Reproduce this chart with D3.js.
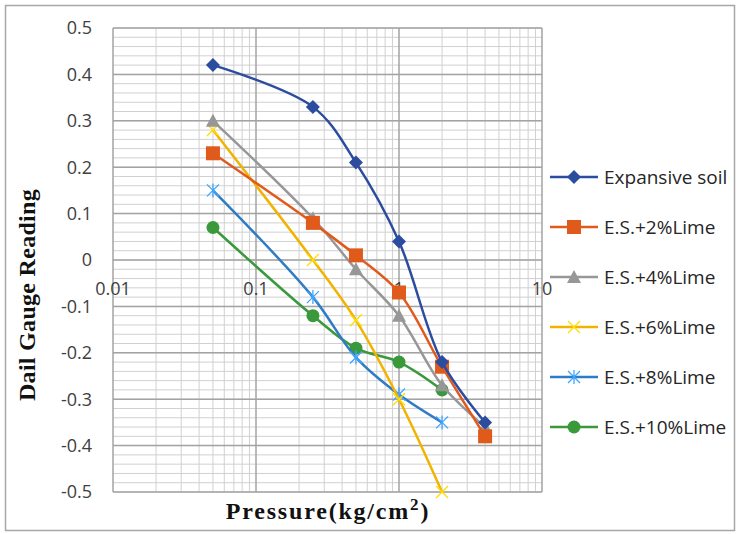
<!DOCTYPE html>
<html>
<head>
<meta charset="utf-8">
<script src="https://cdn.jsdelivr.net/npm/d3@7"></script>
<style>
  body { margin: 0; background: #fff; }
</style>
</head>
<body>
<div id="chart"></div>
<script>
// data
var pressure = [0.05, 0.25, 0.5, 1, 2, 4];
var seriesNames = ["Expansive soil", "E.S.+2%Lime", "E.S.+4%Lime", "E.S.+6%Lime", "E.S.+8%Lime", "E.S.+10%Lime"];
var expansiveSoil = [0.42, 0.33, 0.21, 0.04, -0.22, -0.35];
var lime2 = [0.23, 0.08, 0.01, -0.07, -0.23, -0.38];
var lime4 = [0.30, 0.09, -0.02, -0.12, -0.27, -0.36];
var lime6 = [0.28, 0.0, -0.13, -0.30, -0.50];
var lime8 = [0.15, -0.08, -0.21, -0.29, -0.35];
var lime10 = [0.07, -0.12, -0.19, -0.22, -0.28];
var xTicks = [0.01, 0.1, 1, 10];
var yTicks = [0.5, 0.4, 0.3, 0.2, 0.1, 0, -0.1, -0.2, -0.3, -0.4, -0.5];
var yTickLabels = ["0.5", "0.4", "0.3", "0.2", "0.1", "0", "-0.1", "-0.2", "-0.3", "-0.4", "-0.5"];
var xTickLabels = ["0.01", "0.1", "1", "10"];

var colors = ["#2b4c9f", "#e05a1c", "#979797", "#f2b300", "#2f7cc6", "#3a993a"];
var markers = ["diamond", "square", "triangle", "cross", "star", "circle"];
var allSeries = [expansiveSoil, lime2, lime4, lime6, lime8, lime10];

var svgWidth = 738;
var svgHeight = 534;
var plot = { left: 113, right: 542, top: 28, bottom: 492 };
var sans = "'Open Sans', 'Noto Sans', sans-serif";
var serif = "'Liberation Serif', 'Times New Roman', serif";

var svg = d3.select("#chart")
  .append("svg")
  .attr("width", svgWidth)
  .attr("height", svgHeight);

// outer frame
svg.append("rect")
  .attr("x", 5.5).attr("y", 5.5)
  .attr("width", 729).attr("height", 525)
  .attr("fill", "#fff")
  .attr("stroke", "#a6a6a6")
  .attr("stroke-width", 1.5);

var x = d3.scaleLog().domain([0.01, 10]).range([plot.left, plot.right]);
var y = d3.scaleLinear().domain([-0.5, 0.5]).range([plot.bottom, plot.top]);

// minor grid
var minorX = [];
[0.01, 0.1, 1].forEach(function(d) {
  for (var i = 2; i <= 9; i++) minorX.push(d * i);
});
var minorY = d3.range(-50, 51, 2).map(d => d / 100);

var grid = svg.append("g");
grid.selectAll(".mx").data(minorX).enter().append("line")
  .attr("x1", d => x(d)).attr("x2", d => x(d))
  .attr("y1", plot.top).attr("y2", plot.bottom)
  .attr("stroke", "#d0d0d0").attr("stroke-width", 1);
grid.selectAll(".my").data(minorY).enter().append("line")
  .attr("x1", plot.left).attr("x2", plot.right)
  .attr("y1", d => y(d)).attr("y2", d => y(d))
  .attr("stroke", "#d0d0d0").attr("stroke-width", 1);

// major grid
grid.selectAll(".Mx").data(xTicks).enter().append("line")
  .attr("x1", d => x(d)).attr("x2", d => x(d))
  .attr("y1", plot.top).attr("y2", plot.bottom)
  .attr("stroke", "#a3a3a3").attr("stroke-width", 1.5);
grid.selectAll(".My").data(yTicks).enter().append("line")
  .attr("x1", plot.left).attr("x2", plot.right)
  .attr("y1", d => y(d)).attr("y2", d => y(d))
  .attr("stroke", "#a3a3a3").attr("stroke-width", 1.5);

// y tick labels
svg.selectAll(".ylab").data(yTicks).enter().append("text")
  .attr("x", 92)
  .attr("y", d => y(d))
  .attr("dy", "0.36em")
  .attr("text-anchor", "end")
  .style("font-family", sans)
  .style("font-size", "18px")
  .attr("fill", "#404040")
  .text((d, i) => yTickLabels[i]);

// x tick labels sit just under the zero line
svg.selectAll(".xlab").data(xTicks).enter().append("text")
  .attr("x", d => x(d))
  .attr("y", y(0) + 35)
  .attr("text-anchor", "middle")
  .style("font-family", sans)
  .style("font-size", "18px")
  .attr("fill", "#404040")
  .text((d, i) => xTickLabels[i]);

// axis titles
svg.append("text")
  .attr("x", 328).attr("y", 519)
  .attr("text-anchor", "middle")
  .style("font-family", serif)
  .style("font-weight", "bold")
  .style("font-size", "24px")
  .style("letter-spacing", "1.8px")
  .attr("fill", "#111")
  .html("Pressure(kg/cm<tspan dy='-9' font-size='17px'>2</tspan><tspan dy='9'>)</tspan>");

svg.append("text")
  .attr("transform", "translate(35, 295) rotate(-90)")
  .attr("text-anchor", "middle")
  .style("font-family", serif)
  .style("font-weight", "bold")
  .style("font-size", "24px")
  .style("letter-spacing", "0.3px")
  .attr("fill", "#111")
  .text("Dail Gauge Reading");

function drawMarker(g, type, color, cx, cy) {
  if (type === "diamond") {
    g.append("path").attr("d", `M${cx},${cy - 7}L${cx + 7},${cy}L${cx},${cy + 7}L${cx - 7},${cy}Z`)
      .attr("fill", color);
  } else if (type === "square") {
    g.append("rect").attr("x", cx - 7).attr("y", cy - 7).attr("width", 14).attr("height", 14)
      .attr("fill", color);
  } else if (type === "triangle") {
    g.append("path").attr("d", `M${cx},${cy - 7}L${cx + 7},${cy + 6}L${cx - 7},${cy + 6}Z`)
      .attr("fill", color);
  } else if (type === "cross") {
    g.append("path").attr("d", `M${cx - 6},${cy - 6}L${cx + 6},${cy + 6}M${cx + 6},${cy - 6}L${cx - 6},${cy + 6}`)
      .attr("stroke", d3.color(color).brighter(0.6)).attr("stroke-width", 1.3);
  } else if (type === "star") {
    g.append("path").attr("d", `M${cx - 6},${cy - 6}L${cx + 6},${cy + 6}M${cx + 6},${cy - 6}L${cx - 6},${cy + 6}M${cx},${cy - 7}L${cx},${cy + 7}`)
      .attr("stroke", d3.color(color).brighter(0.8)).attr("stroke-width", 1.3);
  } else {
    g.append("circle").attr("cx", cx).attr("cy", cy).attr("r", 6.5).attr("fill", color);
  }
}

var line = d3.line()
  .x(d => x(d[0]))
  .y(d => y(d[1]))
  .curve(d3.curveCatmullRom.alpha(0.5));

// draw series in reverse so Expansive soil ends up on top
for (var s = allSeries.length - 1; s >= 0; s--) {
  var pts = allSeries[s].map((v, i) => [pressure[i], v]);
  var g = svg.append("g");
  g.append("path")
    .datum(pts)
    .attr("d", line)
    .attr("fill", "none")
    .attr("stroke", colors[s])
    .attr("stroke-width", 2.5);
  pts.forEach(function(p) {
    drawMarker(g, markers[s], colors[s], x(p[0]), y(p[1]));
  });
}

// legend
var legend = svg.append("g");
seriesNames.forEach(function(name, i) {
  var ly = 177 + i * 50;
  legend.append("line")
    .attr("x1", 550).attr("x2", 598)
    .attr("y1", ly).attr("y2", ly)
    .attr("stroke", colors[i]).attr("stroke-width", 2.5);
  drawMarker(legend, markers[i], colors[i], 574, ly);
  legend.append("text")
    .attr("x", 604).attr("y", ly)
    .attr("dy", "0.36em")
    .style("font-family", sans)
    .style("font-size", "19px")
    .attr("fill", "#262626")
    .text(name);
});
</script>
</body>
</html>
